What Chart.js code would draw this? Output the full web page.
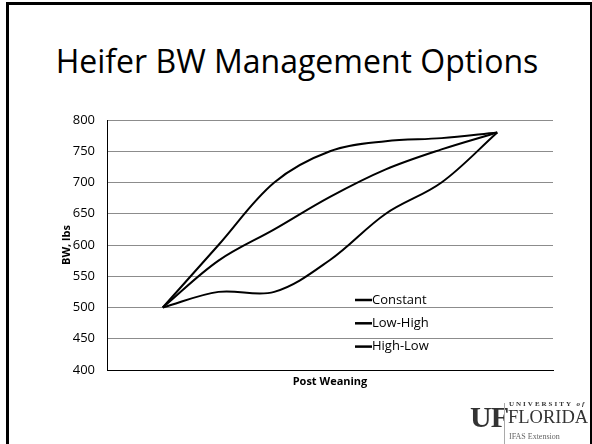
<!DOCTYPE html>
<html>
<head>
<meta charset="utf-8">
<script src="https://cdn.jsdelivr.net/npm/chart.js@4"></script>
<style>
   body { margin: 0; background: #fff; }
   #slide { position: relative; width: 592px; height: 444px; overflow: hidden; font-family: "Open Sans", sans-serif; }
   #frame { position: absolute; left: 6px; top: 2px; width: 581px; height: 460px; border: 3px solid #000; }
   #title { position: absolute; left: 0; width: 594px; top: 41px; text-align: center; font-size: 32px; line-height: 40px; color: #000; }
   #chart { position: absolute; left: 0; top: 0; }
   .logo { position: absolute; font-family: "Liberation Serif", serif; color: #333; white-space: nowrap; }
</style>
</head>
<body>
<div id="slide">
   <div id="frame"></div>
   <div id="title">Heifer BW Management Options</div>
   <canvas id="chart" width="592" height="444"></canvas>
   <div class="logo" style="left:470px; top:400px; font-size:30px; font-weight:bold; letter-spacing:-1px;">UF</div>
   <div style="position:absolute; left:504px; top:403px; width:1px; height:41px; background:#aaa;"></div>
   <div class="logo" style="left:509px; top:400px; font-size:7px; letter-spacing:2px; font-weight:bold;">UNIVERSITY <i>of</i></div>
   <div class="logo" style="left:508px; top:407px; font-size:18.5px;">FLORIDA</div>
   <div class="logo" style="left:509px; top:432px; font-size:8px; color:#666;">IFAS Extension</div>
</div>
<script>
// positions along the post weaning period (axis runs 0..8, ends left empty)
const periods = [1, 2, 3, 4, 5, 6, 7];

const seriesNames = ['Constant', 'Low-High', 'High-Low'];
const constant = [500, 575, 625, 677, 721, 753, 780];
const lowHigh = [500, 525, 525, 576, 650, 700, 780];
const highLow = [500, 600, 700, 750, 766, 771, 780];

const yTicks = [400, 450, 500, 550, 600, 650, 700, 750, 800];

function toPoints(values) {
   return values.map((v, i) => ({ x: periods[i], y: v }));
}

// legend drawn inside the plot, like the original
const insideLegend = {
   id: 'insideLegend',
   afterDatasetsDraw(chart) {
      const ctx = chart.ctx;
      ctx.save();
      ctx.font = '13px "Open Sans"';
      ctx.textBaseline = 'middle';
      ctx.fillStyle = '#000';
      chart.data.datasets.forEach((ds, i) => {
         const y = 300 + i * 23.3;
         ctx.strokeStyle = ds.borderColor;
         ctx.lineWidth = 2.5;
         ctx.beginPath();
         ctx.moveTo(355, y);
         ctx.lineTo(372, y);
         ctx.stroke();
         ctx.fillText(ds.label, 372, y);
      });
      ctx.restore();
   }
};

const ctx = document.getElementById('chart');
const heiferChart = new Chart(ctx, {
   type: 'line',
   data: {
      datasets: [
         { label: seriesNames[0], data: toPoints(constant) },
         { label: seriesNames[1], data: toPoints(lowHigh) },
         { label: seriesNames[2], data: toPoints(highLow) }
      ].map(ds => Object.assign(ds, {
         borderColor: '#000',
         borderWidth: 2,
         pointRadius: 0,
         tension: 0.35,
         fill: false
      }))
   },
   options: {
      responsive: false,
      animation: false,
      layout: {
         padding: { left: 56, right: 39, top: 120, bottom: 56 }
      },
      scales: {
         x: {
            type: 'linear',
            min: 0,
            max: 8,
            ticks: { display: false },
            grid: { display: false },
            border: { color: '#000', width: 1 },
            title: {
               display: true,
               text: 'Post Weaning',
               color: '#000',
               font: { family: 'Open Sans', size: 11, weight: 'bold' },
               padding: { top: 2, bottom: 0 }
            },
            afterFit: scale => { scale.height = 18; }
         },
         y: {
            min: 400,
            max: 800,
            afterBuildTicks: scale => { scale.ticks = yTicks.map(v => ({ value: v })); },
            ticks: {
               color: '#000',
               padding: 12,
               font: { family: 'Open Sans', size: 13 }
            },
            grid: { color: '#8c8c8c', drawTicks: false },
            border: { color: '#000', width: 1 },
            title: {
               display: true,
               text: 'BW, lbs',
               color: '#000',
               font: { family: 'Open Sans', size: 11, weight: 'bold' },
               padding: { top: 4, bottom: 0 }
            },
            afterFit: scale => { scale.width = 51; }
         }
      },
      plugins: {
         legend: { display: false },
         tooltip: { enabled: false }
      }
   },
   plugins: [insideLegend]
});
</script>
</body>
</html>
